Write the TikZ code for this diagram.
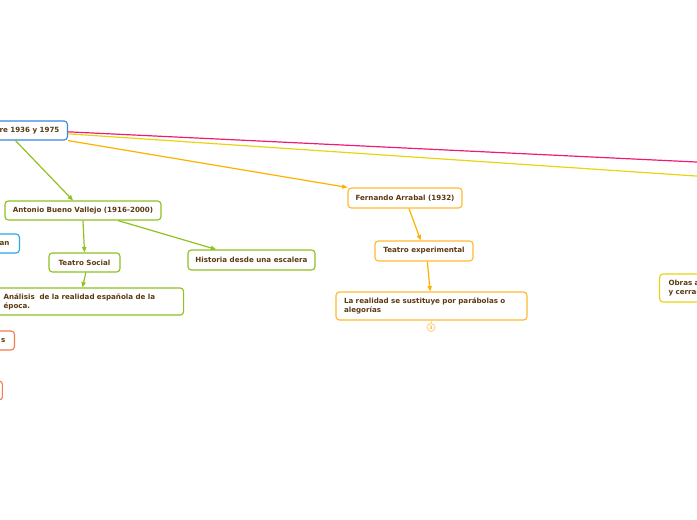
\documentclass[tikz,border=0pt]{standalone}
\usepackage{fontspec}
\setmainfont{DejaVu Sans}
\usetikzlibrary{arrows.meta}
\definecolor{txt}{HTML}{5C3A12}
\definecolor{cgreen}{HTML}{8DC21F}
\definecolor{corange}{HTML}{FFB000}
\definecolor{cboxor}{HTML}{FFBA33}
\definecolor{cyellow}{HTML}{E8D511}
\definecolor{cpink}{HTML}{EE1C71}
\definecolor{cblue}{HTML}{3A86E0}
\definecolor{clblue}{HTML}{2AA7E8}
\definecolor{cred}{HTML}{F47B4F}
\tikzset{
  box/.style={draw, rounded corners=2.5pt, fill=white, line width=0.85pt,
    font=\fontsize{5.35}{6.6}\selectfont\bfseries, text=txt, inner sep=0pt,
    minimum height=14.25pt},
  conn/.style={line width=0.9pt, -{Triangle[length=4pt,width=3.2pt]}},
  plain/.style={line width=0.9pt}
}
\begin{document}
\begin{tikzpicture}[x=0.75pt,y=-0.75pt]
\useasboundingbox (0,0) rectangle (697,520);
\clip (0,0) rectangle (697,520);
% root
\node[box, draw=cblue, anchor=east, text width=99pt, align=right, inner xsep=6pt] (root) at (68,130.5) {re 1936 y 1975};
% green branch
\node[box, draw=cgreen, minimum width=117pt] (ant) at (83,210.5) {Antonio Bueno Vallejo (1916-2000)};
\node[box, draw=clblue, anchor=east, text width=37.5pt, align=right, inner xsep=7.5pt] (an) at (20,243.5) {an};
\node[box, draw=cgreen, minimum width=53.25pt] (ts) at (84.5,262.5) {Teatro Social};
\node[box, draw=cgreen, minimum width=95.25pt, minimum height=15pt] (hist) at (251.5,260) {Historia desde una escalera};
\node[box, draw=cgreen, anchor=west, text width=129pt, align=left, inner xsep=6pt, minimum height=20.25pt] (anal) at (-5,301.5) {Análisis~ de la realidad española de la\\época.};
\node[box, draw=cred, anchor=east, text width=37.5pt, align=right, inner xsep=6.75pt] (sbox) at (15,340.5) {s};
\node[box, draw=cred, anchor=east, minimum width=40pt] (ebox) at (3,390.5) {};
% orange branch
\node[box, draw=cboxor, minimum width=85.5pt, minimum height=15pt] (fern) at (405,198) {Fernando Arrabal (1932)};
\node[box, draw=cboxor, minimum width=73.5pt, minimum height=15pt] (texp) at (424,251) {Teatro experimental};
\node[box, draw=cboxor, text width=131.25pt, align=left, inner xsep=6pt, minimum height=21pt] (real) at (431.5,306) {La realidad se sustituye por parábolas o\\alegorías};
\node[draw=cboxor!70, circle, line width=0.6pt, minimum size=6pt, inner sep=0pt, text=cboxor, font=\fontsize{3.5}{4}\selectfont\bfseries] (cnt) at (431,327.5) {3};
% yellow branch
\node[box, draw=cyellow, anchor=west, text width=60pt, align=left, inner xsep=6.75pt, minimum height=21pt] (obras) at (659,288) {Obras a\\y cerrad};
\coordinate (pinkend) at (800,167);
\coordinate (yelend) at (800,183);
% connectors
\draw[conn, cgreen] ([xshift=16.5pt]root.south) -- ([xshift=-7.5pt]ant.north);
\draw[conn, cgreen] (ant.south) -- (ts.north);
\draw[conn, cgreen] ([xshift=26.25pt]ant.south) -- ([xshift=-26.5pt]hist.north);
\draw[conn, cgreen] ([xshift=1pt]ts.south) -- ([xshift=-1.5pt]ts.south |- anal.north);
\draw[conn, corange] (root.south east) -- (fern.north west);
\draw[conn, corange] ([xshift=3pt]fern.south) -- ([xshift=-2.5pt]texp.north);
\draw[conn, corange] ([xshift=2.5pt]texp.south) -- ([xshift=-1pt]real.north);
\draw[plain, cpink] ([yshift=-1pt]root.east) -- (pinkend);
\draw[plain, cyellow] ([yshift=-2.5pt]root.east) -- (yelend);
\draw[line width=0.6pt, cboxor!70] (real.south) -- (cnt.north);
\end{tikzpicture}
\end{document}
